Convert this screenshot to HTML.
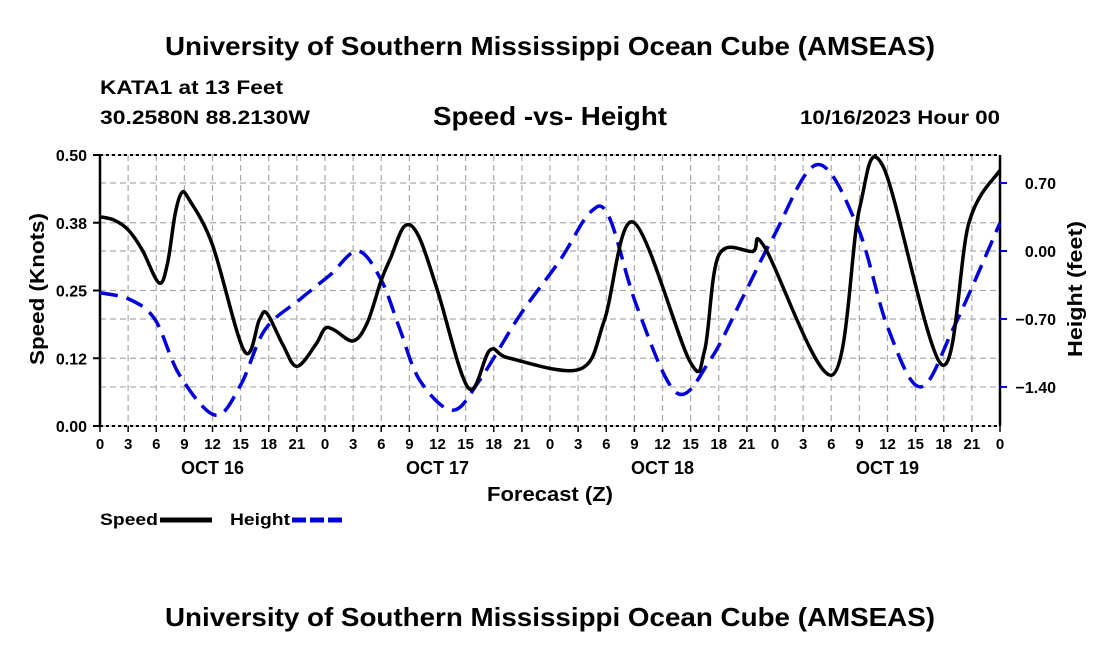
<!DOCTYPE html>
<html><head><meta charset="utf-8"><style>
body{margin:0;background:#fff}
svg{display:block;font-family:"Liberation Sans",Arial,sans-serif;font-weight:bold}
</style></head><body>
<svg id="chart" width="1100" height="650" viewBox="0 0 1100 650">
<text x="550" y="55" font-size="26" text-anchor="middle" textLength="770" lengthAdjust="spacingAndGlyphs">University of Southern Mississippi Ocean Cube (AMSEAS)</text>
<text x="100" y="94" font-size="19" textLength="183" lengthAdjust="spacingAndGlyphs">KATA1 at 13 Feet</text>
<text x="100" y="124" font-size="19" textLength="210" lengthAdjust="spacingAndGlyphs">30.2580N  88.2130W</text>
<text x="550" y="125" font-size="26" text-anchor="middle" textLength="234" lengthAdjust="spacingAndGlyphs">Speed -vs- Height</text>
<text x="1000" y="124" font-size="19" text-anchor="end" textLength="200" lengthAdjust="spacingAndGlyphs">10/16/2023 Hour 00</text>
<g id="grid"></g>
<g id="axes"></g>
<g id="series"></g>
<text transform="translate(44,289) rotate(-90)" font-size="20" text-anchor="middle" textLength="152" lengthAdjust="spacingAndGlyphs">Speed (Knots)</text>
<text transform="translate(1082,289) rotate(-90)" font-size="20" text-anchor="middle" textLength="136" lengthAdjust="spacingAndGlyphs">Height (feet)</text>
<text x="550" y="501" font-size="20" text-anchor="middle" textLength="126" lengthAdjust="spacingAndGlyphs">Forecast (Z)</text>
<g><text x="100" y="525" font-size="17" textLength="58" lengthAdjust="spacingAndGlyphs">Speed</text><line x1="160" y1="520" x2="212" y2="520" stroke="#000" stroke-width="5"/></g>
<g><text x="230" y="525" font-size="17" textLength="60" lengthAdjust="spacingAndGlyphs">Height</text><line x1="292" y1="520" x2="342" y2="520" stroke="#0000dd" stroke-width="5" stroke-dasharray="14,4"/></g>
<text x="550" y="626" font-size="26" text-anchor="middle" textLength="770" lengthAdjust="spacingAndGlyphs">University of Southern Mississippi Ocean Cube (AMSEAS)</text>
</svg>
<script>
const speedHours=[0,1.5,3,4.5,6.3,7.2,8,8.7,9.5,12,15.4,17,17.8,19.5,21,23,24,25,27,28.5,30,31,32.5,34,36,39.3,41.6,43.7,51.2,53.8,56.9,62.9,64.5,66,69.6,70.9,78.1,81,83.5,89.8,92.7,96];
const speedValues=[0.386,0.38,0.362,0.325,0.264,0.3,0.39,0.43,0.418,0.334,0.138,0.196,0.208,0.15,0.11,0.15,0.18,0.177,0.157,0.19,0.269,0.31,0.369,0.35,0.25,0.07,0.14,0.125,0.105,0.195,0.376,0.12,0.14,0.315,0.322,0.33,0.094,0.4,0.48,0.113,0.376,0.472];
const heightHours=[0,3.2,5.9,8.5,12.3,15,17.6,21.3,24.5,27.5,30,32,34.1,37.6,40.5,44.8,49.1,52.3,54.3,57.3,61.5,65.1,68.6,71.8,76.5,80.8,84,87.5,91.1,96];
const heightValues=[-0.43,-0.5,-0.71,-1.28,-1.69,-1.38,-0.81,-0.5,-0.25,0.0,-0.3,-0.81,-1.33,-1.64,-1.33,-0.66,-0.09,0.4,0.35,-0.58,-1.46,-1.12,-0.47,0.14,0.89,0.25,-0.78,-1.40,-0.78,0.29];
const leftTicks=[0,0.125,0.25,0.375,0.5];
const leftTickLabels=["0.00","0.12","0.25","0.38","0.50"];
const rightTicks=[-1.4,-0.7,0,0.7];
const rightTickLabels=["\u22121.40","\u22120.70","0.00","0.70"];
const dayLabels=["OCT 16","OCT 17","OCT 18","OCT 19"];
const X0=100,X1=1000,Y0=426,Y1=155;
const xs=h=>X0+(h/96)*(X1-X0);
const ys=v=>Y0-(v/0.5)*(Y0-Y1);
const yh=v=>251-v*97.1;
const NS="http://www.w3.org/2000/svg";
function mk(tag,attrs,parent,txt){const e=document.createElementNS(NS,tag);for(const k in attrs)e.setAttribute(k,attrs[k]);if(txt!==undefined)e.textContent=txt;parent.appendChild(e);return e;}
const grid=document.getElementById('grid'),axes=document.getElementById('axes'),series=document.getElementById('series');
for(let h=3;h<96;h+=3){const l=mk('line',{x1:xs(h),x2:xs(h),y1:Y1,y2:Y0,stroke:'#aaa','stroke-width':1.2,'stroke-dasharray':'6,4'},grid);

}
const gy=leftTicks.map(ys).concat(rightTicks.map(yh));
gy.forEach(y=>{const l=mk('line',{x1:X0,x2:X1,y1:y,y2:y,stroke:'#aaa','stroke-width':1.2,'stroke-dasharray':'6,4'},grid);

});
mk('line',{x1:X0,x2:X1,y1:Y1,y2:Y1,stroke:'#000','stroke-width':2,'stroke-dasharray':'3,3'},axes);
mk('line',{x1:X0,x2:X1,y1:Y0,y2:Y0,stroke:'#000','stroke-width':2,'stroke-dasharray':'3,3'},axes);
mk('line',{x1:X0,x2:X0,y1:Y1,y2:Y0,stroke:'#000','stroke-width':2.5},axes);
mk('line',{x1:X1,x2:X1,y1:Y1,y2:Y0,stroke:'#000','stroke-width':2.5},axes);
leftTicks.forEach((v,i)=>{mk('line',{x1:X0-7,x2:X0,y1:ys(v),y2:ys(v),stroke:'#000','stroke-width':2},axes);
const t=mk('text',{x:X0-13,y:ys(v)+6,'font-size':16,'text-anchor':'end'},axes,leftTickLabels[i]);

});
rightTicks.forEach((v,i)=>{mk('line',{x1:X1,x2:X1+7,y1:yh(v),y2:yh(v),stroke:'#0000dd','stroke-width':2},axes);
const t=mk('text',{x:1056,y:yh(v)+6,'font-size':16,'text-anchor':'end'},axes,rightTickLabels[i]);

});
for(let h=0;h<=96;h+=3){mk('line',{x1:xs(h),x2:xs(h),y1:Y0,y2:Y0+6,stroke:'#000','stroke-width':1.5},axes);
const t=mk('text',{x:xs(h),y:449,'font-size':15,'text-anchor':'middle'},axes,String(h%24));

}
dayLabels.forEach((d,i)=>{const t=mk('text',{x:xs(12+24*i),y:474,'font-size':18,'text-anchor':'middle'},axes,d);

});
function smooth(pts){let d=`M${pts[0][0]},${pts[0][1]}`;for(let i=0;i<pts.length-1;i++){const p0=pts[i-1]||pts[i],p1=pts[i],p2=pts[i+1],p3=pts[i+2]||p2;const t=6;
d+=` C${p1[0]+(p2[0]-p0[0])/t},${p1[1]+(p2[1]-p0[1])/t} ${p2[0]-(p3[0]-p1[0])/t},${p2[1]-(p3[1]-p1[1])/t} ${p2[0]},${p2[1]}`;}return d;}
const hp=mk('path',{d:smooth(heightHours.map((h,i)=>[xs(h),yh(heightValues[i])])),fill:'none',stroke:'#0000dd','stroke-width':3.5,'stroke-dasharray':'18,9'},series);


const sp=mk('path',{d:smooth(speedHours.map((h,i)=>[xs(h),ys(speedValues[i])])),fill:'none',stroke:'#000','stroke-width':3.5,'stroke-linejoin':'round'},series);


</script>
</body></html>
